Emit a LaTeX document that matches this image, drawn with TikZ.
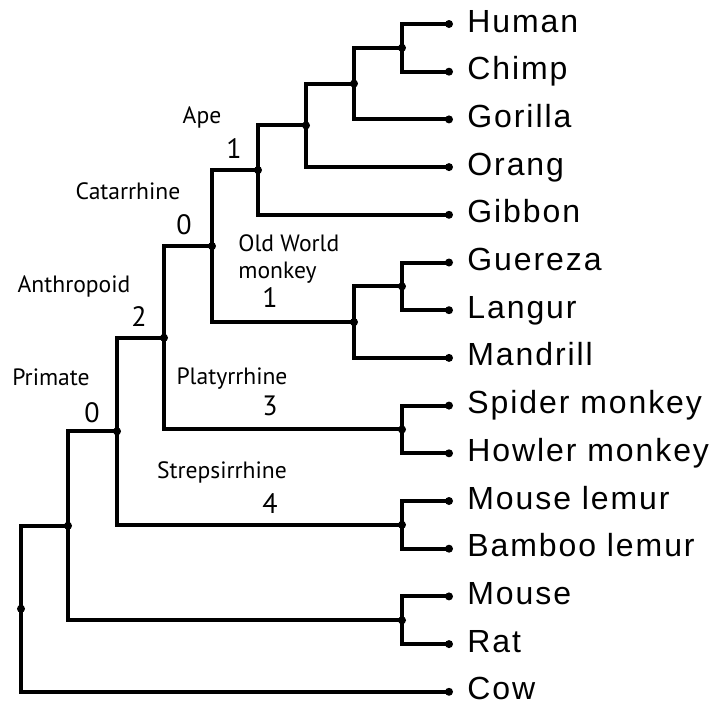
\documentclass[tikz,border=0pt]{standalone}
\usepackage{fontspec}
\setmainfont{Liberation Sans}
\newfontfamily\leaffont[LetterSpace=6]{Liberation Sans}
\newfontfamily\cladefont{PT Sans}
\usetikzlibrary{positioning}
\definecolor{color_text}{HTML}{000000}
\definecolor{color_back}{HTML}{FFFFFF}
\tikzset{
  tree_edge/.style={draw=color_text, line width=2pt},
  tree_dot/.style={circle, fill=color_text, inner sep=0pt, minimum size=4pt},
  leaf_label/.style={font=\leaffont\fontsize{16}{18}\selectfont, text=color_text, anchor=base west, inner sep=0pt},
  clade_label/.style={font=\cladefont\fontsize{11.8}{13.5}\selectfont, text=color_text, anchor=base, inner sep=0pt},
  clade_count/.style={font=\cladefont\fontsize{14}{16}\selectfont, text=color_text, anchor=base, inner sep=0pt},
}
\begin{document}
\begin{tikzpicture}[x=0.5pt, y=-0.5pt]
    \useasboundingbox[fill=color_back] (0,0) rectangle (718,702);
    % Leaves
    \foreach \name/\txt [count=\i from 0] in {human/Human, chimp/Chimp, gorilla/Gorilla, orang/Orang, gibbon/Gibbon,
        guereza/Guereza, langur/Langur, mandrill/Mandrill, spider/Spider monkey, howler/Howler monkey,
        mlemur/Mouse lemur, blemur/Bamboo lemur, mouse/Mouse, rat/Rat, cow/Cow} {
      \node[tree_dot] (\name) at (449, 24+47.7*\i) {};
      \node[leaf_label] (\name_txt) at (467, 32+47.7*\i) {\txt};
    }
    % Internal nodes
    \node[tree_dot] (hc) at (402, 47.85) {};
    \node[tree_dot] (hcg) at (354, 83.6) {};
    \node[tree_dot] (hcgo) at (306, 125.4) {};
    \node[tree_dot] (ape) at (258, 170.1) {};
    \node[tree_dot] (gl) at (402, 286.35) {};
    \node[tree_dot] (owm) at (354, 322.1) {};
    \node[tree_dot] (cat) at (212, 246.1) {};
    \node[tree_dot] (plat) at (402, 429.45) {};
    \node[tree_dot] (anth) at (164, 337.8) {};
    \node[tree_dot] (strep) at (402, 524.85) {};
    \node[tree_dot] (prim) at (117, 431.3) {};
    \node[tree_dot] (rod) at (402, 620.25) {};
    \node[tree_dot] (euar) at (68, 525.8) {};
    \node[tree_dot] (root) at (21, 608.8) {};
    % Branches
    \foreach \p/\c in {hc/human, hc/chimp, hcg/hc, hcg/gorilla, hcgo/hcg, hcgo/orang, ape/hcgo, ape/gibbon,
        gl/guereza, gl/langur, owm/gl, owm/mandrill, cat/ape, cat/owm, plat/spider, plat/howler,
        anth/cat, anth/plat, strep/mlemur, strep/blemur, prim/anth, prim/strep, rod/mouse, rod/rat,
        euar/prim, euar/rod, root/euar, root/cow}
      \draw[tree_edge] (\p.center) |- (\c.center);
    % Clade names and counts
    \node[clade_label] (ape_lbl) at (202, 123) {Ape};
    \node[clade_count] (ape_num) at (234, 158) {1};
    \node[clade_label] (cat_lbl) at (128, 199) {Catarrhine};
    \node[clade_count] (cat_num) at (184, 234) {0};
    \node[clade_label, anchor=base west, align=left] (owm_lbl) at (238, 278) {Old World\\monkey};
    \node[clade_count] (owm_num) at (270, 307) {1};
    \node[clade_label] (anth_lbl) at (74, 292) {Anthropoid};
    \node[clade_count] (anth_num) at (139, 326) {2};
    \node[clade_label] (prim_lbl) at (51, 385) {Primate};
    \node[clade_count] (prim_num) at (92, 422) {0};
    \node[clade_label] (plat_lbl) at (232, 384) {Platyrrhine};
    \node[clade_count] (plat_num) at (270, 415) {3};
    \node[clade_label] (strep_lbl) at (222, 478) {Strepsirrhine};
    \node[clade_count] (strep_num) at (270, 513) {4};
\end{tikzpicture}
\end{document}
